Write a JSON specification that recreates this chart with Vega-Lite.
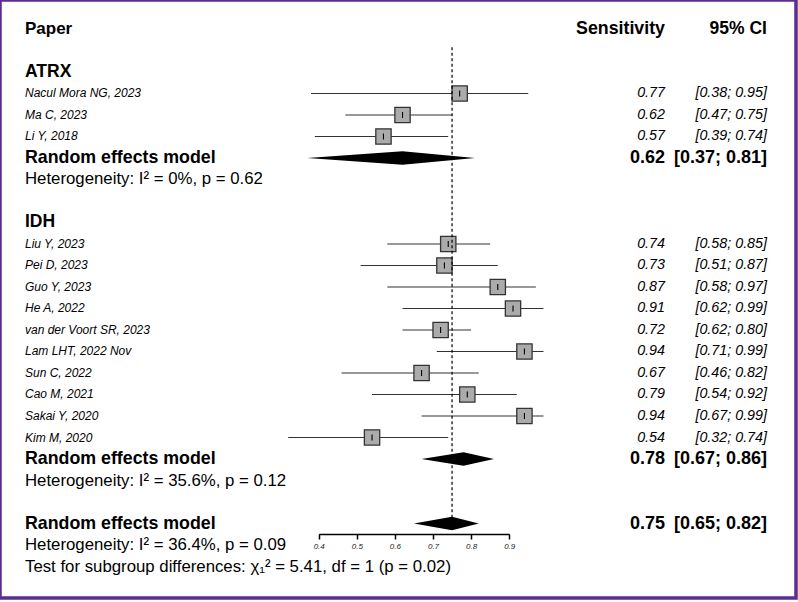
{
  "$schema": "https://vega.github.io/schema/vega-lite/v6.json",
  "width": 796,
  "height": 598,
  "autosize": {"type": "none"},
  "padding": {"left": 0, "top": 0, "right": 2, "bottom": 4},
  "background": "white",
  "view": {"stroke": "#5c2d91", "strokeWidth": 3.5},
  "config": {"font": "Liberation Sans", "text": {"color": "black"}},
  "datasets": {
    "header": [{"row": 0, "paper": "Paper", "sens": "Sensitivity", "ci": "95% CI"}],
    "groups": [
      {"row": 2, "text": "ATRX"},
      {"row": 9, "text": "IDH"}
    ],
    "notes": [
      {"row": 7, "text": "Heterogeneity: I² = 0%, p = 0.62"},
      {"row": 21, "text": "Heterogeneity: I² = 35.6%, p = 0.12"},
      {"row": 24, "text": "Heterogeneity: I² = 36.4%, p = 0.09"},
      {"row": 25, "text": "Test for subgroup differences: χ₁² = 5.41, df = 1 (p = 0.02)"}
    ],
    "studies": [
      {"row": 3, "group": "ATRX", "paper": "Nacul Mora NG, 2023", "est": 0.77, "lo": 0.38, "hi": 0.95},
      {"row": 4, "group": "ATRX", "paper": "Ma C, 2023", "est": 0.62, "lo": 0.47, "hi": 0.75},
      {"row": 5, "group": "ATRX", "paper": "Li Y, 2018", "est": 0.57, "lo": 0.39, "hi": 0.74},
      {"row": 10, "group": "IDH", "paper": "Liu Y, 2023", "est": 0.74, "lo": 0.58, "hi": 0.85},
      {"row": 11, "group": "IDH", "paper": "Pei D, 2023", "est": 0.73, "lo": 0.51, "hi": 0.87},
      {"row": 12, "group": "IDH", "paper": "Guo Y, 2023", "est": 0.87, "lo": 0.58, "hi": 0.97},
      {"row": 13, "group": "IDH", "paper": "He A, 2022", "est": 0.91, "lo": 0.62, "hi": 0.99},
      {"row": 14, "group": "IDH", "paper": "van der Voort SR, 2023", "est": 0.72, "lo": 0.62, "hi": 0.80},
      {"row": 15, "group": "IDH", "paper": "Lam LHT, 2022 Nov", "est": 0.94, "lo": 0.71, "hi": 0.99},
      {"row": 16, "group": "IDH", "paper": "Sun C, 2022", "est": 0.67, "lo": 0.46, "hi": 0.82},
      {"row": 17, "group": "IDH", "paper": "Cao M, 2021", "est": 0.79, "lo": 0.54, "hi": 0.92},
      {"row": 18, "group": "IDH", "paper": "Sakai Y, 2020", "est": 0.94, "lo": 0.67, "hi": 0.99},
      {"row": 19, "group": "IDH", "paper": "Kim M, 2020", "est": 0.54, "lo": 0.32, "hi": 0.74}
    ],
    "models": [
      {"row": 6, "scope": "ATRX", "label": "Random effects model", "est": 0.62, "lo": 0.37, "hi": 0.81},
      {"row": 20, "scope": "IDH", "label": "Random effects model", "est": 0.78, "lo": 0.67, "hi": 0.86},
      {"row": 23, "scope": "Overall", "label": "Random effects model", "est": 0.75, "lo": 0.65, "hi": 0.82}
    ]
  },
  "resolve": {"scale": {"x": "independent"}},
  "layer": [
    {
      "layer": [
        {
          "data": {"name": "studies"},
          "mark": {"type": "rule", "color": "#333333", "strokeWidth": 1.1},
          "encoding": {
            "x": {"field": "lo", "type": "quantitative", "scale": {"domain": [-0.43648, 1.65276], "nice": false, "zero": false}, "axis": null},
            "x2": {"field": "hi"},
            "y": {"field": "row", "type": "quantitative", "scale": {"domain": [-1.3488, 26.4651], "reverse": true, "nice": false, "zero": false}, "axis": null}
          }
        },
        {
          "data": {"name": "studies"},
          "mark": {"type": "point", "shape": "square", "filled": true, "fill": "#ababab", "stroke": "#333333", "strokeWidth": 1.3, "size": 235, "opacity": 1},
          "encoding": {
            "x": {"field": "est", "type": "quantitative"},
            "y": {"field": "row", "type": "quantitative"}
          }
        },
        {
          "data": {"name": "studies"},
          "mark": {"type": "point", "shape": "M0,-1V1", "filled": false, "stroke": "black", "strokeWidth": 1.1, "size": 36, "opacity": 1},
          "encoding": {
            "x": {"field": "est", "type": "quantitative"},
            "y": {"field": "row", "type": "quantitative"}
          }
        },
        {
          "data": {"name": "models"},
          "transform": [
            {"fold": ["lo", "est", "hi"], "as": ["vertex", "xv"]},
            {"calculate": "datum.vertex === 'est' ? 0.31 : 0", "as": "half"},
            {"calculate": "datum.row - datum.half", "as": "ytop"},
            {"calculate": "datum.row + datum.half", "as": "ybot"}
          ],
          "mark": {"type": "area", "orient": "vertical", "color": "black", "opacity": 1},
          "encoding": {
            "x": {"field": "xv", "type": "quantitative"},
            "y": {"field": "ytop", "type": "quantitative"},
            "y2": {"field": "ybot"},
            "detail": {"field": "scope"}
          }
        },
        {
          "data": {"name": "header"},
          "mark": {"type": "text", "align": "left", "baseline": "middle", "fontWeight": "bold", "fontSize": 17},
          "encoding": {
            "x": {"datum": -0.3709},
            "y": {"field": "row", "type": "quantitative"},
            "text": {"field": "paper"}
          }
        },
        {
          "data": {"name": "header"},
          "mark": {"type": "text", "align": "right", "baseline": "middle", "fontWeight": "bold", "fontSize": 17.8},
          "encoding": {
            "x": {"datum": 1.3089},
            "y": {"field": "row", "type": "quantitative"},
            "text": {"field": "sens"}
          }
        },
        {
          "data": {"name": "header"},
          "mark": {"type": "text", "align": "right", "baseline": "middle", "fontWeight": "bold", "fontSize": 17.5},
          "encoding": {
            "x": {"datum": 1.5766},
            "y": {"field": "row", "type": "quantitative"},
            "text": {"field": "ci"}
          }
        },
        {
          "data": {"name": "groups"},
          "mark": {"type": "text", "align": "left", "baseline": "middle", "fontWeight": "bold", "fontSize": 17.5},
          "encoding": {
            "x": {"datum": -0.3709},
            "y": {"field": "row", "type": "quantitative"},
            "text": {"field": "text"}
          }
        },
        {
          "data": {"name": "notes"},
          "mark": {"type": "text", "align": "left", "baseline": "middle", "fontSize": 16.8},
          "encoding": {
            "x": {"datum": -0.3709},
            "y": {"field": "row", "type": "quantitative"},
            "text": {"field": "text"}
          }
        },
        {
          "data": {"name": "studies"},
          "mark": {"type": "text", "align": "left", "baseline": "middle", "fontStyle": "italic", "fontSize": 12},
          "encoding": {
            "x": {"datum": -0.3709},
            "y": {"field": "row", "type": "quantitative"},
            "text": {"field": "paper"}
          }
        },
        {
          "data": {"name": "studies"},
          "mark": {"type": "text", "align": "right", "baseline": "middle", "fontStyle": "italic", "fontSize": 14.3},
          "encoding": {
            "x": {"datum": 1.3089},
            "y": {"field": "row", "type": "quantitative"},
            "text": {"field": "est", "format": ".2f"}
          }
        },
        {
          "data": {"name": "studies"},
          "transform": [
            {"calculate": "'[' + format(datum.lo, '.2f') + '; ' + format(datum.hi, '.2f') + ']'", "as": "ci"}
          ],
          "mark": {"type": "text", "align": "right", "baseline": "middle", "fontStyle": "italic", "fontSize": 14.3},
          "encoding": {
            "x": {"datum": 1.5766},
            "y": {"field": "row", "type": "quantitative"},
            "text": {"field": "ci"}
          }
        },
        {
          "data": {"name": "models"},
          "mark": {"type": "text", "align": "left", "baseline": "middle", "fontWeight": "bold", "fontSize": 17.8},
          "encoding": {
            "x": {"datum": -0.3709},
            "y": {"field": "row", "type": "quantitative"},
            "text": {"field": "label"}
          }
        },
        {
          "data": {"name": "models"},
          "mark": {"type": "text", "align": "right", "baseline": "middle", "fontWeight": "bold", "fontSize": 18},
          "encoding": {
            "x": {"datum": 1.3089},
            "y": {"field": "row", "type": "quantitative"},
            "text": {"field": "est", "format": ".2f"}
          }
        },
        {
          "data": {"name": "models"},
          "transform": [
            {"calculate": "'[' + format(datum.lo, '.2f') + '; ' + format(datum.hi, '.2f') + ']'", "as": "ci"}
          ],
          "mark": {"type": "text", "align": "right", "baseline": "middle", "fontWeight": "bold", "fontSize": 18},
          "encoding": {
            "x": {"datum": 1.5766},
            "y": {"field": "row", "type": "quantitative"},
            "text": {"field": "ci"}
          }
        }
      ]
    },
    {
      "data": {"name": "models"},
      "transform": [{"filter": "datum.scope === 'Overall'"}],
      "mark": {"type": "rule", "color": "black", "strokeWidth": 1.2, "strokeDash": [3, 2.5]},
      "encoding": {
        "x": {
          "field": "est",
          "type": "quantitative",
          "scale": {"domain": [0.4, 0.9], "range": [318.7, 509.2], "nice": false, "zero": false},
          "axis": {
            "orient": "bottom",
            "offset": -64,
            "values": [0.4, 0.5, 0.6, 0.7, 0.8, 0.9],
            "format": ".1f",
            "grid": false,
            "title": null,
            "domainColor": "black",
            "domainWidth": 1.5,
            "tickColor": "black",
            "tickWidth": 1.5,
            "tickSize": 5,
            "labelFont": "Liberation Sans",
            "labelFontStyle": "italic",
            "labelFontSize": 8,
            "labelColor": "#222222",
            "labelPadding": 3,
            "labelFlush": false
          }
        },
        "y": {"datum": 0.85, "type": "quantitative"},
        "y2": {"datum": 23}
      }
    }
  ]
}
